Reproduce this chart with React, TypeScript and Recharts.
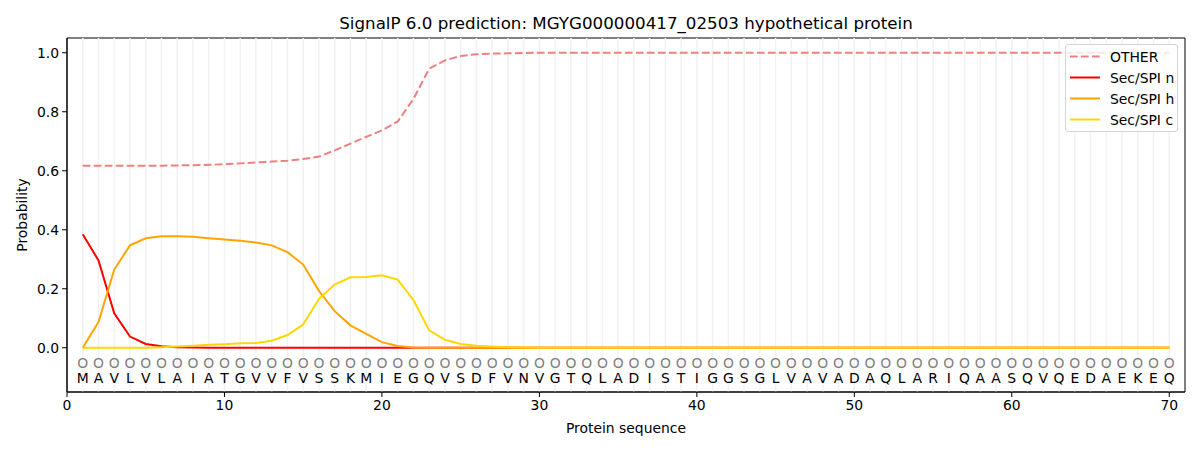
import React from 'react';
import {
  ComposedChart, Line, Scatter, XAxis, YAxis, ReferenceLine, ReferenceArea,
} from 'recharts';

const positions: number[] = Array.from({ length: 70 }, (_, i) => i + 1);

const residues: string[] = 'MAVLVLAIATGVVFVSSKMIEGQVSDFVNVGTQLADISTIGGSGLVAVADAQLARIQAASQVQEDAEKEQ'.split('');

const otherProb: number[] = [
  0.617, 0.617, 0.617, 0.617, 0.617, 0.617, 0.618, 0.619, 0.620, 0.622,
  0.625, 0.628, 0.631, 0.634, 0.640, 0.648, 0.669, 0.692, 0.715, 0.737,
  0.767, 0.843, 0.946, 0.974, 0.989, 0.995, 0.997, 0.998, 0.999, 1.0,
  1.0, 1.0, 1.0, 1.0, 1.0, 1.0, 1.0, 1.0, 1.0, 1.0,
  1.0, 1.0, 1.0, 1.0, 1.0, 1.0, 1.0, 1.0, 1.0, 1.0,
  1.0, 1.0, 1.0, 1.0, 1.0, 1.0, 1.0, 1.0, 1.0, 1.0,
  1.0, 1.0, 1.0, 1.0, 1.0, 1.0, 1.0, 1.0, 1.0, 1.0,
];

const secN: number[] = [
  0.385, 0.296, 0.117, 0.038, 0.013, 0.005, 0.002, 0.001, 0, 0,
  0, 0, 0, 0, 0, 0, 0, 0, 0, 0,
  0, 0, 0, 0, 0, 0, 0, 0, 0, 0,
  0, 0, 0, 0, 0, 0, 0, 0, 0, 0,
  0, 0, 0, 0, 0, 0, 0, 0, 0, 0,
  0, 0, 0, 0, 0, 0, 0, 0, 0, 0,
  0, 0, 0, 0, 0, 0, 0, 0, 0, 0,
];

const secH: number[] = [
  0, 0.087, 0.265, 0.347, 0.371, 0.378, 0.378, 0.376, 0.371, 0.367,
  0.363, 0.357, 0.347, 0.324, 0.282, 0.193, 0.124, 0.076, 0.047, 0.019,
  0.006, 0.001, 0, 0, 0, 0, 0, 0, 0, 0,
  0, 0, 0, 0, 0, 0, 0, 0, 0, 0,
  0, 0, 0, 0, 0, 0, 0, 0, 0, 0,
  0, 0, 0, 0, 0, 0, 0, 0, 0, 0,
  0, 0, 0, 0, 0, 0, 0, 0, 0, 0,
];

const secC: number[] = [
  0, 0, 0, 0, 0, 0.002, 0.004, 0.007, 0.010, 0.012,
  0.015, 0.016, 0.024, 0.043, 0.079, 0.166, 0.214, 0.239, 0.240, 0.246,
  0.231, 0.162, 0.059, 0.027, 0.013, 0.007, 0.004, 0.002, 0.001, 0,
  0, 0, 0, 0, 0, 0, 0, 0, 0, 0,
  0, 0, 0, 0, 0, 0, 0, 0, 0, 0,
  0, 0, 0, 0, 0, 0, 0, 0, 0, 0,
  0, 0, 0, 0, 0, 0, 0, 0, 0, 0,
];

const xTicks: number[] = [0, 10, 20, 30, 40, 50, 60, 70];
const yTicks: number[] = [0, 0.2, 0.4, 0.6, 0.8, 1.0];

// row where the "O" marks sit (residue letters go just under it)
const MARK_Y = -0.05;

const FONT = '"DejaVu Sans", sans-serif';

const tableData = positions.map((p, i) => ({
  pos: p,
  other: otherProb[i],
  n: secN[i],
  h: secH[i],
  c: secC[i],
  aa: residues[i],
  mark: MARK_Y,
}));

const legendItems = [
  { name: 'OTHER', color: '#f08080', dash: '7.7 3.3' },
  { name: 'Sec/SPI n', color: '#ff0000', dash: undefined },
  { name: 'Sec/SPI h', color: '#ffa500', dash: undefined },
  { name: 'Sec/SPI c', color: '#ffd700', dash: undefined },
];

const ResidueMark = (props: any) => {
  const { cx, cy, payload } = props;
  return (
    <g>
      <text
        x={cx}
        y={cy}
        textAnchor="middle"
        dominantBaseline="central"
        fontFamily={FONT}
        fontSize={13.9}
        fill="#808080"
      >
        O
      </text>
      <text
        x={cx}
        y={cy + 15}
        textAnchor="middle"
        dominantBaseline="central"
        fontFamily={FONT}
        fontSize={13.9}
        fill="#000"
      >
        {payload.aa}
      </text>
    </g>
  );
};

const YTitle = (props: any) => {
  const vb = props.viewBox;
  return (
    <text
      x={vb.x + 15}
      y={vb.y + vb.height / 2}
      transform={`rotate(-90 ${vb.x + 15} ${vb.y + vb.height / 2})`}
      textAnchor="middle"
      dominantBaseline="central"
      fontFamily={FONT}
      fontSize={13.9}
      fill="#000"
    >
      Probability
    </text>
  );
};

const XTitle = (props: any) => {
  const vb = props.viewBox;
  return (
    <text
      x={vb.x + vb.width / 2}
      y={vb.y + 36}
      textAnchor="middle"
      dominantBaseline="central"
      fontFamily={FONT}
      fontSize={13.9}
      fill="#000"
    >
      Protein sequence
    </text>
  );
};

export default function App() {
  const tickStyle = { fill: '#000', fontSize: 13.9, fontFamily: FONT };
  return (
    <div style={{ position: 'absolute', left: 0, top: 0, width: 1200, height: 450, background: '#fff', fontFamily: FONT }}>
      <div
        style={{
          position: 'absolute', left: 67, width: 1118, top: 12, textAlign: 'center',
          fontSize: 16.7, color: '#000', lineHeight: '22px',
        }}
      >
        SignalP 6.0 prediction: MGYG000000417_02503 hypothetical protein
      </div>
      <ComposedChart
        width={1200}
        height={450}
        data={tableData}
        margin={{ top: 38, right: 15, bottom: 28, left: 7 }}
      >
        <XAxis
          dataKey="pos"
          type="number"
          domain={[0, 71]}
          ticks={xTicks}
          allowDataOverflow
          height={30}
          tickSize={5}
          tickMargin={3}
          axisLine={{ stroke: '#000' }}
          tickLine={{ stroke: '#000' }}
          tick={tickStyle}
          label={{ content: XTitle }}
        />
        <YAxis
          type="number"
          domain={[-0.15, 1.05]}
          ticks={yTicks}
          allowDataOverflow
          width={60}
          tickSize={5}
          tickMargin={3}
          tickFormatter={(v: number) => v.toFixed(1)}
          axisLine={{ stroke: '#000' }}
          tickLine={{ stroke: '#000' }}
          tick={tickStyle}
          label={{ content: YTitle }}
        />
        {positions.map((p) => (
          <ReferenceLine key={p} x={p} stroke="#f2f2f2" strokeWidth={1.5} />
        ))}
        <ReferenceArea x1={0} x2={71} y1={-0.15} y2={1.05} fill="none" stroke="#000" strokeWidth={1} />
        <Scatter dataKey="mark" shape={ResidueMark} isAnimationActive={false} />
        <Line type="linear" dataKey="other" stroke="#f08080" strokeWidth={2} strokeDasharray="7.7 3.3" dot={false} isAnimationActive={false} />
        <Line type="linear" dataKey="n" stroke="#ff0000" strokeWidth={2} dot={false} isAnimationActive={false} />
        <Line type="linear" dataKey="h" stroke="#ffa500" strokeWidth={2} dot={false} isAnimationActive={false} />
        <Line type="linear" dataKey="c" stroke="#ffd700" strokeWidth={2} dot={false} isAnimationActive={false} />
      </ComposedChart>
      <div
        style={{
          position: 'absolute', left: 1065, top: 44, width: 113, height: 88, boxSizing: 'border-box',
          border: '1px solid #d6d6d6', borderRadius: 3, background: 'rgba(255,255,255,0.8)',
        }}
      >
        {legendItems.map((item, i) => (
          <div key={item.name} style={{ position: 'absolute', left: 0, top: 1 + i * 21, height: 21, display: 'flex', alignItems: 'center' }}>
            <svg width={44} height={21}>
              <line x1={4} x2={34} y1={10.5} y2={10.5} stroke={item.color} strokeWidth={2} strokeDasharray={item.dash} />
            </svg>
            <span style={{ fontSize: 13.9, color: '#000', whiteSpace: 'nowrap' }}>{item.name}</span>
          </div>
        ))}
      </div>
    </div>
  );
}
